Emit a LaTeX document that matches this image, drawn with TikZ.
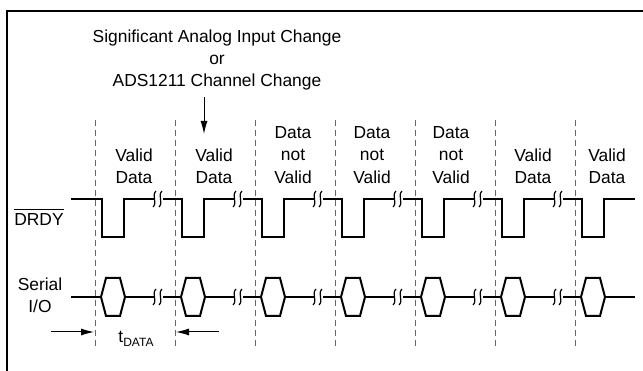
\documentclass[tikz,border=0pt]{standalone}
\usepackage{fontspec}
\setmainfont{Liberation Sans}
\usetikzlibrary{arrows.meta}
\begin{document}
\begin{tikzpicture}[x=1pt,y=-1pt,
  lbl/.style={inner sep=0pt,align=center,font=\fontsize{17.4}{22.3}\selectfont},
  sig/.style={line width=2pt,line join=miter},
  guide/.style={line width=0.9pt,black!60,dash pattern=on 6pt off 4pt},
  brk/.style={line width=1.2pt},
  dimarrow/.style={line width=1pt,-{Latex[length=13pt,width=7pt]}},
  frame/.style={line width=2.4pt}]
\useasboundingbox (0,0) rectangle (643,371);
% frame (only left and top edges visible)
\draw[frame] (7,371) -- (7,11) -- (643,11);
% dashed guides
\foreach \d in {95,175,255,335,415,495,575}
  \draw[guide] (\d,120) -- (\d,346);
% DRDY signal
\draw[sig] (71,199) -- (102,199) -- (102,237) -- (124,237) -- (124,199) -- (154,199);
\foreach \d in {175,255,335,415,495,575}{
  \draw[sig] (\d-12,199) -- (\d+7,199) -- (\d+7,237) -- (\d+29,237) -- (\d+29,199)
    -- ({\d+59<635?\d+59:635},199);
}
\draw[sig] (604,199) -- (635,199);
% Serial I/O signal
\foreach \d in {95,175,255,335,415,495,575}{
  \draw[sig] (\d+6,297) -- (\d+11,278) -- (\d+25,278) -- (\d+30,297) -- (\d+25,316) -- (\d+11,316) -- cycle;
}
\draw[sig] (71,297) -- (101,297);
\foreach \d in {95,175,255,335,415,495}{
  \draw[sig] (\d+30,297) -- (\d+59,297);
  \draw[sig] (\d+68,297) -- (\d+86,297);
}
\draw[sig] (605,297) -- (635,297);
% break marks
\foreach \d in {95,175,255,335,415,495}{
  \foreach \yy in {199,297}{
    \draw[brk] (\d+61,\yy-8) .. controls (\d+56,\yy-3) and (\d+63,\yy+3) .. (\d+58,\yy+8);
    \draw[brk] (\d+67,\yy-8) .. controls (\d+62,\yy-3) and (\d+69,\yy+3) .. (\d+64,\yy+8);
  }
}
% labels
\node[lbl,anchor=north] (cap) at (217,29.3) {Significant Analog Input Change\\or\\ADS1211 Channel Change};
\coordinate (arrS) at (204,97);
\coordinate (arrE) at (204,134);
\draw[line width=1pt,-{Latex[length=13pt,width=7pt]}] (arrS) -- (arrE);
\node[lbl,anchor=north] (c1) at (134,148.3) {Valid\\Data};
\node[lbl,anchor=north] (c2) at (214,148.3) {Valid\\Data};
\node[lbl,anchor=north] (c3) at (293,126.5) {Data\\not\\Valid};
\node[lbl,anchor=north] (c4) at (372,126.5) {Data\\not\\Valid};
\node[lbl,anchor=north] (c5) at (451,126.5) {Data\\not\\Valid};
\node[lbl,anchor=north] (c6) at (533,148.3) {Valid\\Data};
\node[lbl,anchor=north] (c7) at (607,148.3) {Valid\\Data};
\node[lbl] (drdy) at (39,219.5) {DRDY};
\draw[line width=1.2pt] ([yshift=4pt]drdy.north west) -- ([yshift=4pt]drdy.north east);
\node[lbl] (serial) at (40,295) {Serial\\I/O};
% t_DATA
\coordinate (tL) at (51,332);
\coordinate (tLe) at (94,332);
\coordinate (tR) at (219,332);
\coordinate (tRe) at (176,332);
\draw[dimarrow] (tL) -- (tLe);
\draw[dimarrow] (tR) -- (tRe);
\node[lbl] (tdata) at (136,339) {t\raisebox{-4pt}{\fontsize{12}{12}\selectfont DATA}};
\end{tikzpicture}
\end{document}
